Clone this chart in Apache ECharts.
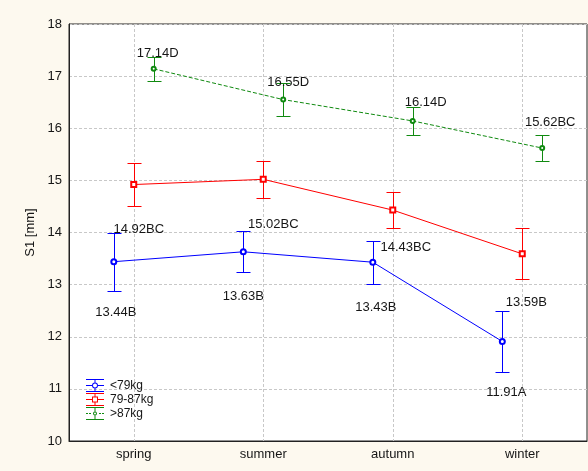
<!DOCTYPE html>
<html>
<head>
<meta charset="utf-8">
<script src="https://cdn.jsdelivr.net/npm/echarts@6/dist/echarts.min.js"></script>
<style>
  html, body { margin: 0; padding: 0; background: #fdf9ef; }
  #chart { width: 588px; height: 471px; }
</style>
</head>
<body>
<div id="chart"></div>
<script>
// Seasonal S1 means by body-weight group, with 95% confidence half-widths
const seasons = ['spring', 'summer', 'autumn', 'winter'];
const groupNames = ['<79kg', '79-87kg', '>87kg'];

const meanLight = [13.44, 13.63, 13.43, 11.91];
const meanMid   = [14.92, 15.02, 14.43, 13.59];
const meanHeavy = [17.14, 16.55, 16.14, 15.62];

const ciLight = [0.56, 0.39, 0.41, 0.58];
const ciMid   = [0.42, 0.36, 0.34, 0.49];
const ciHeavy = [0.23, 0.31, 0.26, 0.25];

// homogeneous-group letters printed after each mean
const lettersLight = ['B', 'B', 'B', 'A'];
const lettersMid   = ['BC', 'BC', 'BC', 'B'];
const lettersHeavy = ['D', 'D', 'D', 'BC'];

const yMin = 10, yMax = 18, yStep = 1;

// ---- presentation settings ----
const FONT = '"Liberation Sans", Arial, sans-serif';
const colors = ['#0000ff', '#ff0000', '#108a10'];
const gridColor = '#c8c8c8';
const dodge = [-0.154, 0, 0.154];           // horizontal spread of the groups within a season
const labelShift = [                        // pixel offset of each value label from its point
  [[2, 51], [0, 45], [3, 45], [4, 51]],
  [[5, 45], [10, 45], [13, 37], [4, 49]],
  [[4, -15], [5, -17], [13, -19], [8, -26]]
];

const icons = [
  'path://M0 0H18V1H0Z M0 12H18V13H0Z M0 6H6V7H0Z M12 6H18V7H12Z M8.5 1H9.5V3.5H8.5Z M8.5 9.5H9.5V12H8.5Z ' +
    'M12 6.5A3 3 0 1 0 6 6.5A3 3 0 1 0 12 6.5Z M11 6.5A2 2 0 1 1 7 6.5A2 2 0 1 1 11 6.5Z',
  'path://M0 0H18V1H0Z M0 12H18V13H0Z M0 6H6V7H0Z M12 6H18V7H12Z M8.5 1H9.5V3.5H8.5Z M8.5 9.5H9.5V12H8.5Z ' +
    'M6 3.5H12V9.5H6Z M7 4.5V8.5H11V4.5Z',
  'path://M0 0H18V1H0Z M0 12H18V13H0Z M0 6H2V7H0Z M3 6H5V7H3Z M13 6H15V7H13Z M16 6H18V7H16Z M8.5 1H9.5V4.5H8.5Z M8.5 8.5H9.5V12H8.5Z ' +
    'M11 6.5A2 2 0 1 0 7 6.5A2 2 0 1 0 11 6.5Z M10 6.5A1 1 0 1 1 8 6.5A1 1 0 1 1 10 6.5Z'
];

const means = [meanLight, meanMid, meanHeavy];
const cis = [ciLight, ciMid, ciHeavy];
const letters = [lettersLight, lettersMid, lettersHeavy];
const symbols = [['emptyCircle', 5], ['emptyRect', 5], ['emptyCircle', 4]];

// dashed vertical guide through every season
const guideSeries = {
  type: 'custom',
  xAxisIndex: 1,
  z: 1,
  silent: true,
  encode: { x: 0 },
  data: seasons.map((_, i) => [i]),
  renderItem: function (params, api) {
    const cs = params.coordSys;
    const x = Math.round(api.coord([api.value(0), yMin])[0]) + 0.5;
    return {
      type: 'line',
      shape: { x1: x, y1: cs.y, x2: x, y2: cs.y + cs.height },
      style: { stroke: gridColor, lineWidth: 1, lineDash: [3, 2] }
    };
  }
};

function errorBarSeries(g) {
  const color = colors[g];
  return {
    type: 'custom',
    name: groupNames[g],
    xAxisIndex: 1,
    z: 2,
    silent: true,
    encode: { x: 0, y: 1 },
    data: means[g].map((v, i) => [i + dodge[g], v, cis[g][i]]),
    renderItem: function (params, api) {
      const x = api.value(0), m = api.value(1), e = api.value(2);
      const top = api.coord([x, m + e]);
      const bot = api.coord([x, m - e]);
      const cx = Math.round(top[0]) + 0.5;
      const ty = Math.round(top[1]) + 0.5;
      const by = Math.round(bot[1]) + 0.5;
      const hw = 7;
      const st = { stroke: color, lineWidth: 1 };
      return {
        type: 'group',
        children: [
          { type: 'line', shape: { x1: cx, y1: ty, x2: cx, y2: by }, style: st },
          { type: 'line', shape: { x1: cx - hw, y1: ty, x2: cx + hw, y2: ty }, style: st },
          { type: 'line', shape: { x1: cx - hw, y1: by, x2: cx + hw, y2: by }, style: st }
        ]
      };
    }
  };
}

function meanSeries(g) {
  const color = colors[g];
  return {
    type: 'line',
    name: groupNames[g],
    xAxisIndex: 1,
    z: 3,
    symbol: symbols[g][0],
    symbolSize: symbols[g][1],
    itemStyle: { color: color, borderWidth: 1 },
    lineStyle: { color: color, width: 1, type: g === 2 ? [4, 2] : 'solid' },
    label: {
      show: true,
      position: 'inside',
      fontFamily: FONT,
      fontSize: 13,
      color: '#161616',
      formatter: p => p.value[1].toFixed(2) + letters[g][p.dataIndex]
    },
    data: means[g].map((v, i) => ({ value: [i + dodge[g], v], label: { offset: labelShift[g][i] } }))
  };
}

const series = [guideSeries];
for (let g = 0; g < 3; g++) series.push(errorBarSeries(g));
for (let g = 0; g < 3; g++) series.push(meanSeries(g));

const chart = echarts.init(document.getElementById('chart'));
chart.setOption({
  animation: false,
  backgroundColor: '#fdf9ef',
  textStyle: { fontFamily: FONT },
  grid: {
    left: 69, right: 1, top: 24, bottom: 30,
    show: true, backgroundColor: '#ffffff', borderColor: '#222', borderWidth: 1
  },
  legend: {
    orient: 'vertical',
    left: 86, top: 379,
    padding: 0,
    itemWidth: 18, itemHeight: 13, itemGap: 1,
    selectedMode: false,
    textStyle: { fontFamily: FONT, fontSize: 12, color: '#161616', padding: [0, 0, 0, 1] },
    data: groupNames.map((n, g) => ({
      name: n, icon: icons[g],
      itemStyle: { color: colors[g], borderWidth: 0 }
    }))
  },
  xAxis: [
    {
      type: 'category',
      data: seasons,
      boundaryGap: true,
      axisLine: { onZero: false, lineStyle: { color: '#222' } },
      axisTick: { show: false },
      splitLine: { show: false },
      axisLabel: { fontFamily: FONT, fontSize: 13, color: '#161616', margin: 7 }
    },
    { type: 'value', min: -0.5, max: 3.5, show: false, axisLine: { onZero: false } }
  ],
  yAxis: {
    type: 'value',
    min: yMin, max: yMax, interval: yStep,
    name: 'S1 [mm]',
    nameLocation: 'middle',
    nameGap: 21,
    nameTextStyle: { fontFamily: FONT, fontSize: 13, color: '#161616' },
    axisLine: { show: true, onZero: false, lineStyle: { color: '#222' } },
    axisTick: { show: false },
    axisLabel: { fontFamily: FONT, fontSize: 13, color: '#161616', margin: 7 },
    splitLine: { lineStyle: { color: gridColor, type: [3, 2] } }
  },
  series: series
});
</script>
</body>
</html>
